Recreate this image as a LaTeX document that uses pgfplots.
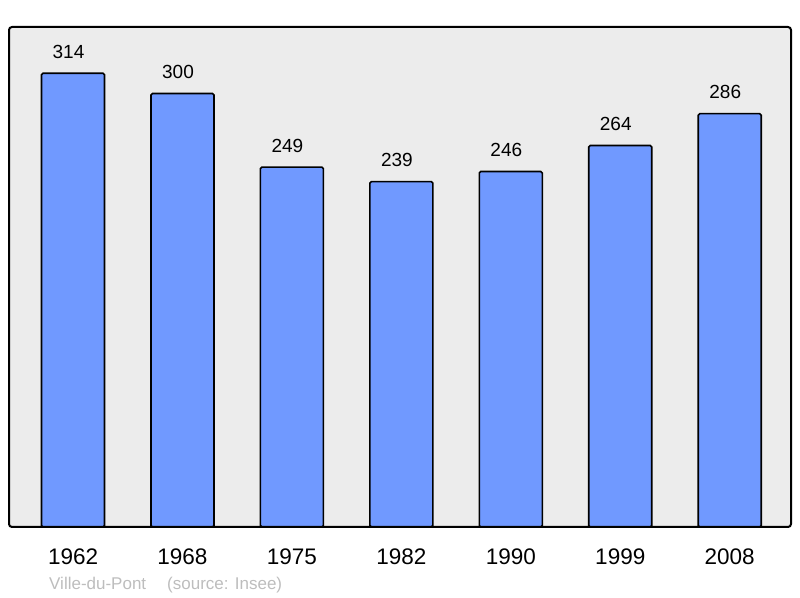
\documentclass[border=0pt]{standalone}
\usepackage{fontspec}
\setmainfont{Liberation Sans}
\usepackage{pgfplots}
\pgfplotsset{compat=1.18}
\definecolor{barblue}{HTML}{7099FF}
\definecolor{panel}{HTML}{ECECEC}
\definecolor{foot}{HTML}{BDBDBD}
\begin{document}
\begin{tikzpicture}[x=1bp,y=1bp]
\path[use as bounding box] (0,0) rectangle (800,598);
% panel background
\fill[panel, rounded corners=3bp] (9,71) rectangle (791,571);
\begin{axis}[
    at={(9bp,71bp)}, anchor=south west,
    scale only axis, width=782bp, height=500bp,
    xmin=-0.585, xmax=6.56, ymin=0, ymax=346,
    axis line style={draw=none},
    ytick=\empty,
    xtick={0,...,6},
    xticklabels={1962,1968,1975,1982,1990,1999,2008},
    major tick length=0pt,
    xticklabel style={anchor=base, yshift=-38bp, font=\fontsize{22.5bp}{26bp}\selectfont},
    /pgf/number format/assume math mode=true,
    ybar, bar width=63bp,
    nodes near coords,
    nodes near coords style={anchor=base, yshift=15bp, xshift=-4.5bp, font=\fontsize{19bp}{22bp}\selectfont, black},
  ]
  \addplot[fill=barblue, draw=black, line width=1.6bp, rounded corners=1.5bp] coordinates {
    (0,314) (1,300) (2,249) (3,239) (4,246) (5,264) (6,286)
  };
\end{axis}
% panel frame
\draw[black, line width=2bp, rounded corners=3bp] (9,71) rectangle (791,571);
\node[anchor=base west, inner sep=0pt, text=foot, font=\fontsize{17bp}{19bp}\selectfont] at (49,8) {Ville-du-Pont};
\node[anchor=base west, inner sep=0pt, text=foot, font=\fontsize{17bp}{19bp}\selectfont] at (167,8) {(source: Insee)};
\end{tikzpicture}
\end{document}
